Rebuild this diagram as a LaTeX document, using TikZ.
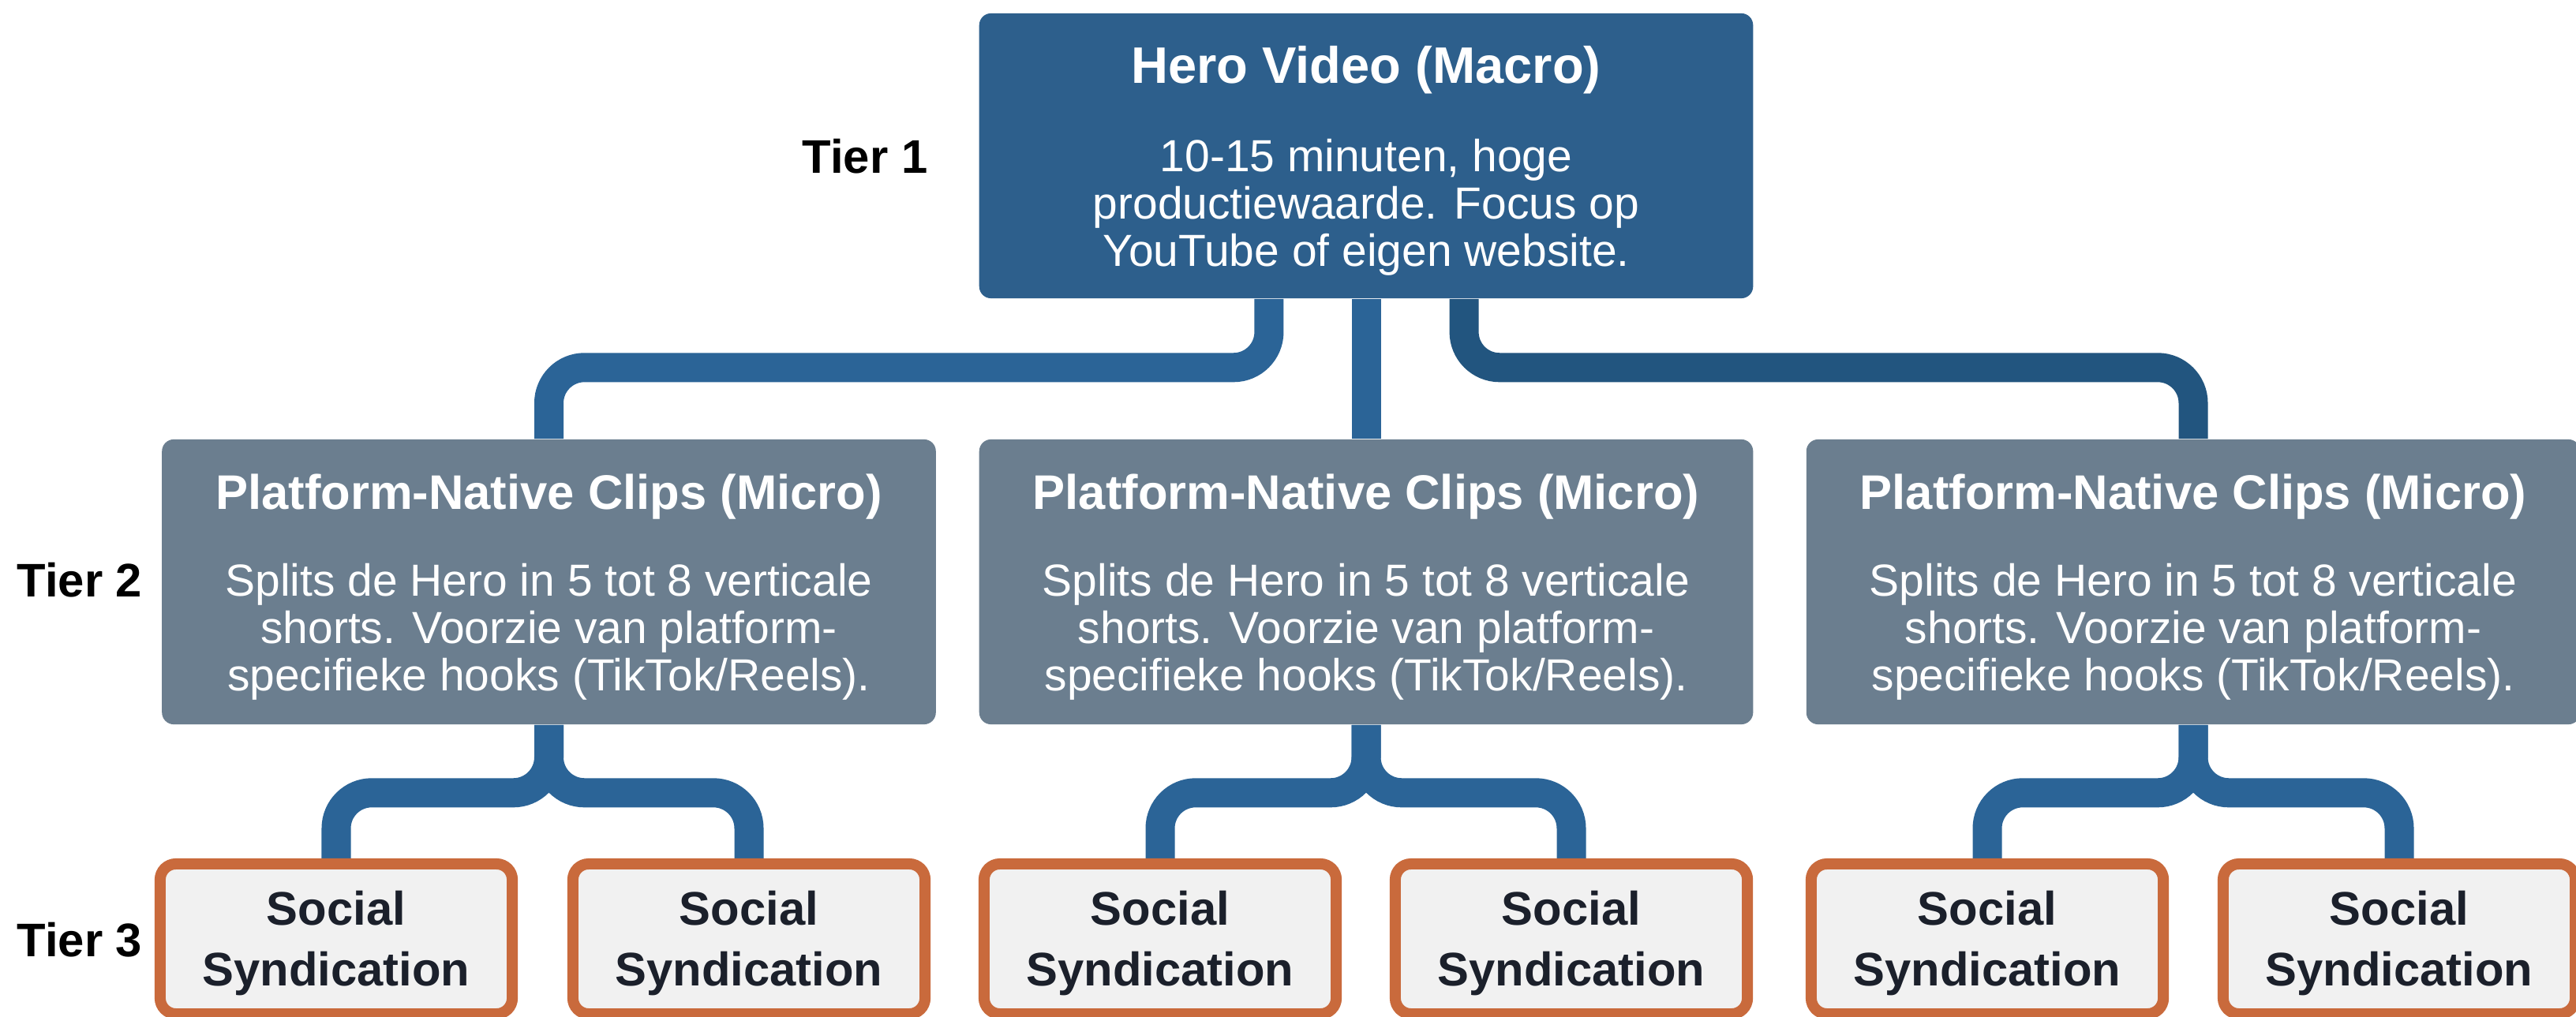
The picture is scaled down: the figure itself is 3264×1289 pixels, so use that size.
\documentclass[tikz,border=0pt]{standalone}
\usepackage{fontspec}
\setmainfont{Liberation Sans}
\usetikzlibrary{backgrounds}
\definecolor{heroblue}{HTML}{2D5F8C}
\definecolor{slate}{HTML}{6B7E8F}
\definecolor{connblue}{HTML}{2B6497}
\definecolor{conndark}{HTML}{22557F}
\definecolor{orangeb}{HTML}{C96A3C}
\definecolor{lightfill}{HTML}{F1F1F1}
\definecolor{darktext}{HTML}{1B202B}
\newcommand{\toprule}[1]{\rule{0pt}{#1}}
\begin{document}
\begin{tikzpicture}[x=0.01cm,y=-0.01cm,
  herobox/.style={fill=heroblue, rounded corners=0.15cm, text=white, align=center,
    minimum width=9.8cm, minimum height=3.61cm, inner sep=0pt,
    font=\fontsize{16.2}{17.07}\selectfont},
  clipbox/.style={fill=slate, rounded corners=0.15cm, text=white, align=center,
    minimum width=9.8cm, minimum height=3.61cm, inner sep=0pt,
    font=\fontsize{16.2}{17.07}\selectfont},
  socialbox/.style={draw=orangeb, line width=0.14cm, fill=lightfill, rounded corners=0.2cm,
    text=darktext, align=center, minimum width=4.46cm, minimum height=1.9cm, inner sep=0pt,
    font=\fontsize{17}{21.9}\selectfont\bfseries},
  tierlabel/.style={font=\fontsize{17}{20}\selectfont\bfseries, text=black, inner sep=0pt},
  conn/.style={draw=connblue, line width=0.37cm, rounded corners=0.45cm}
]
\useasboundingbox (0,0) rectangle (3264,1289);
\clip (0,0) rectangle (3264,1289);

% Tier 1
\node[herobox] (hero) at (1731,197.5) {\toprule{17pt}{\fontsize{18.5}{17.07}\selectfont\bfseries Hero Video (Macro)}\\[15pt]
  10-15 minuten, hoge\\ productiewaarde. Focus op\\ YouTube of eigen website.};

% Tier 2
\node[clipbox] (t2a) at (695.5,737.5) {\toprule{16.4pt}{\fontsize{17.5}{17.07}\selectfont\bfseries Platform-Native Clips (Micro)}\\[14.2pt]
  Splits de Hero in 5 tot 8 verticale\\ shorts. Voorzie van platform-\\ specifieke hooks (TikTok/Reels).};
\node[clipbox] (t2b) at (1731,737.5) {\toprule{16.4pt}{\fontsize{17.5}{17.07}\selectfont\bfseries Platform-Native Clips (Micro)}\\[14.2pt]
  Splits de Hero in 5 tot 8 verticale\\ shorts. Voorzie van platform-\\ specifieke hooks (TikTok/Reels).};
\node[clipbox] (t2c) at (2779,737.5) {\toprule{16.4pt}{\fontsize{17.5}{17.07}\selectfont\bfseries Platform-Native Clips (Micro)}\\[14.2pt]
  Splits de Hero in 5 tot 8 verticale\\ shorts. Voorzie van platform-\\ specifieke hooks (TikTok/Reels).};

% Tier 3
\node[socialbox] (t3a) at (426,1190) {\toprule{15.6pt}Social\\Syndication};
\node[socialbox] (t3b) at (949,1190) {\toprule{15.6pt}Social\\Syndication};
\node[socialbox] (t3c) at (1470,1190) {\toprule{15.6pt}Social\\Syndication};
\node[socialbox] (t3d) at (1991,1190) {\toprule{15.6pt}Social\\Syndication};
\node[socialbox] (t3e) at (2518,1190) {\toprule{15.6pt}Social\\Syndication};
\node[socialbox] (t3f) at (3040,1190) {\toprule{15.6pt}Social\\Syndication};

% Tier labels
\node[tierlabel, anchor=east] (l1) at (1176,198) {Tier 1};
\node[tierlabel, anchor=west] (l2) at (21,735) {Tier 2};
\node[tierlabel, anchor=west] (l3) at (21,1191) {Tier 3};

\begin{scope}[on background layer]
  \fill[white] (0,0) rectangle (3264,1289);
  \draw[conn] ([xshift=-1.23cm]hero.south) -- ++(0,87) -| (t2a.north);
  \draw[conn] (hero.south) -- (t2b.north);
  \draw[conn, draw=conndark] ([xshift=1.24cm]hero.south) -- ++(0,87) -| (t2c.north);
  \draw[conn] (t2a.south) -- ++(0,86) -| (t3a.north);
  \draw[conn] (t2a.south) -- ++(0,86) -| (t3b.north);
  \draw[conn] (t2b.south) -- ++(0,86) -| (t3c.north);
  \draw[conn] (t2b.south) -- ++(0,86) -| (t3d.north);
  \draw[conn] (t2c.south) -- ++(0,86) -| (t3e.north);
  \draw[conn] (t2c.south) -- ++(0,86) -| (t3f.north);
\end{scope}
\end{tikzpicture}
\end{document}
